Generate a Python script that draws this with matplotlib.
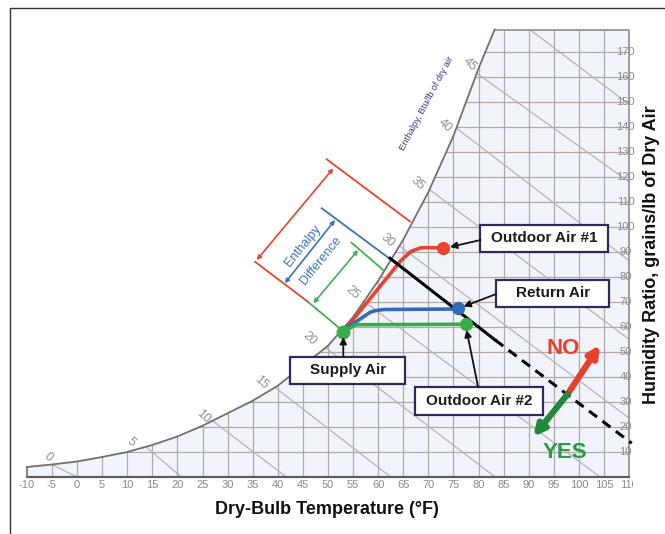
import matplotlib
matplotlib.use("Agg")
import matplotlib.pyplot as plt
from matplotlib.patches import Polygon, Rectangle

plt.rcParams['font.family'] = ['Liberation Sans', 'DejaVu Sans']

# ---------------------------------------------------------------
# data (deg F, grains/lb)
# ---------------------------------------------------------------
sat_temp = [-10, -5, 0, 5, 10, 15, 20, 25, 30, 35, 40, 45, 50, 55, 60, 65, 70, 75, 80, 83.2]
sat_grains = [4, 5, 6.2, 8, 10, 12.8, 16.2, 20.5, 25.5, 30.5, 36.5, 44.5, 52.5, 64, 78.5, 95, 114, 136.5, 163.5, 179]

db_ticks = list(range(-10, 115, 5))
w_ticks = list(range(10, 180, 10))
top_grains = 179

# constant enthalpy lines: start near saturation, end on edge
enth_t0 = [-5.5, 13.5, 27.0, 39.0, 49.0, 57.0, 64.2, 70.2, 75.6, 79.6, 90.2]
enth_w0 = [5.5, 12.5, 22.5, 36.5, 52.5, 70.5, 92.5, 115, 139.5, 161.5, 179]
enth_t1 = [0, 20.8, 41.7, 62.5, 83.3, 104.2, 110, 110, 110, 110, 110]
enth_w1 = [0, 0, 0, 0, 0, 0, 23.5, 55, 86.5, 118, 149]

enth_labels = ['0', '5', '10', '15', '20', '25', '30', '35', '40', '45']
enth_lab_t = [-5.8, 10.8, 25.2, 36.6, 46.4, 54.8, 61.8, 67.8, 73.2, 78.2]
enth_lab_w = [8.1, 14.1, 24.2, 37.9, 55.2, 73.8, 94.4, 117.3, 140.7, 164.9]

# states
supply = (53.05, 58.1)
oa1 = (73.0, 91.7)
ret = (75.8, 67.5)
oa2 = (77.5, 61.1)

red_t = [53.05, 64.5, 66.5, 68.5, 73.0]
red_w = [58.1, 86.5, 90.2, 91.7, 91.7]
blue_t = [53.7, 58.4, 59.4, 61.0, 75.8]
blue_w = [59.5, 65.9, 66.5, 67.0, 67.2]
green_t = [53.05, 55.5, 77.5]
green_w = [58.1, 60.9, 61.1]

# return air enthalpy line (solid part, dashed part)
black_t = [62.35, 83.3]
black_w = [87.5, 54.8]
dash_t = [83.3, 110.5]
dash_w = [54.8, 13.5]

# enthalpy difference dimensions
red_top = ([49.74, 66.33], [127.1, 102.2])
red_bot = ([35.46, 46.0], [86.1, 70.1])
green_bot = ([46.0, 52.7], [70.1, 58.8])
blue_top = ([48.75, 63.5], [107.5, 85.5])
green_top = ([54.7, 61.0], [93.7, 82.8])
red_dim = ((51.06, 123.5), (35.8, 86.8))
blue_dim = ((51.4, 102.8), (41.4, 77.5))
green_dim = ((56.0, 90.8), (47.1, 69.5))

cross = (97.75, 33.2)
no_tip = (104.2, 52.8)
yes_tip = (90.9, 16.1)

# ---------------------------------------------------------------
W_PX, H_PX = 665, 534
PX_T, PX_W = 5.02, 2.5
fig = plt.figure(figsize=(6.65, 5.34), dpi=100)

bg = fig.add_axes([0, 0, 1, 1])
bg.set_xlim(0, W_PX)
bg.set_ylim(H_PX, 0)
bg.axis('off')
bg.plot([10, 10, 670], [545, 8, 8], color='#333333', lw=1.0)

x_left = 77 - 10 * PX_T
ax = fig.add_axes([x_left / W_PX, (H_PX - 477) / H_PX,
                   120 * PX_T / W_PX, top_grains * PX_W / H_PX])
ax.set_xlim(-10, 110)
ax.set_ylim(0, top_grains)
ax.axis('off')

outline = list(zip(sat_temp, sat_grains)) + [(110, top_grains), (110, 0), (-10, 0)]
chart = Polygon(outline, closed=True, facecolor='#f1f5fb', edgecolor='none', zorder=0)
ax.add_patch(chart)

grid_c = '#b2aaaa'
for t in db_ticks[1:-1]:
    ln, = ax.plot([t, t], [0, top_grains], color=grid_c, lw=0.9, zorder=1)
    ln.set_clip_path(chart)
for w in w_ticks:
    ln, = ax.plot([-10, 110], [w, w], color=grid_c, lw=0.9, zorder=1)
    ln.set_clip_path(chart)
for i in range(len(enth_t0)):
    ta, wa, tb, wb = enth_t0[i], enth_w0[i], enth_t1[i], enth_w1[i]
    ta2 = ta + (ta - tb) * 0.06
    wa2 = wa + (wa - wb) * 0.06
    ln, = ax.plot([ta2, tb], [wa2, wb], color='#b8b1b1', lw=0.9, zorder=1)
    ln.set_clip_path(chart)

# chart outline
ax.plot(sat_temp, sat_grains, color='#707070', lw=1.3, zorder=2, clip_on=False)
ax.plot([sat_temp[-1], 110, 110], [top_grains, top_grains, 0], color='#8a8484', lw=1.1,
        zorder=2, clip_on=False)
ax.plot([-10, 110], [0, 0], color='#5e5e5e', lw=1.6, zorder=2, clip_on=False)
ax.plot([-10, -10], [0, sat_grains[0]], color='#707070', lw=1.2, zorder=2, clip_on=False)

# bottom labels; the last one is cut by the picture edge in the original
edge_clip = Rectangle((0, 0), 633, H_PX, transform=bg.transData)
for t in db_ticks:
    lab = ax.text(t, -3.2, str(t), ha='center', va='center', fontsize=8, color='#8a8a8a',
                  clip_on=True)
    lab.set_clip_box(None)
    lab.set_clip_path(edge_clip)
for w in w_ticks:
    ax.text(109.3, w, str(w), ha='center', va='center', fontsize=8, color='#8a8a8a',
            clip_on=False, zorder=3)

for lab, t, w in zip(enth_labels, enth_lab_t, enth_lab_w):
    ax.text(t, w, lab, ha='center', va='center', fontsize=9, color='#8f8f8f',
            rotation=-43, clip_on=False)
ax.text(69.7, 149.6, 'Enthalpy, Btu/lb of dry air', ha='center', va='center',
        fontsize=6.8, color='#3b3a8a', rotation=62, rotation_mode='anchor', clip_on=False)

# dimension lines
red_c, blue_c, green_c = '#e8432d', '#3a72bd', '#45ad52'
ax.plot(*red_top, color=red_c, lw=1.3, zorder=4, clip_on=False)
ax.plot(*red_bot, color=red_c, lw=1.3, zorder=4, clip_on=False)
ax.plot(*green_bot, color=green_c, lw=1.3, zorder=4, clip_on=False)
ax.plot(*blue_top, color=blue_c, lw=1.3, zorder=4, clip_on=False)
ax.plot(*green_top, color=green_c, lw=1.3, zorder=4, clip_on=False)
for (p, q), c in [(red_dim, red_c), (blue_dim, blue_c), (green_dim, green_c)]:
    ax.annotate('', xy=q, xytext=p, annotation_clip=False, zorder=4,
                arrowprops=dict(arrowstyle='<|-|>', color=c, lw=1.2, mutation_scale=6,
                                shrinkA=0, shrinkB=0))
ax.text(45.1, 92.4, 'Enthalpy', ha='center', va='center', fontsize=9.2, color=blue_c,
        rotation=51, rotation_mode='anchor', clip_on=False)
ax.text(48.5, 86.6, 'Difference', ha='center', va='center', fontsize=9.2, color=blue_c,
        rotation=51, rotation_mode='anchor', clip_on=False)

# process lines
ax.plot(red_t, red_w, color=red_c, lw=2.6, zorder=5, solid_capstyle='round')
ax.plot(blue_t, blue_w, color='#2f6db5', lw=2.6, zorder=5, solid_capstyle='round')
ax.plot(green_t, green_w, color='#3aab4a', lw=2.6, zorder=5, solid_capstyle='round')
ax.plot(black_t, black_w, color='black', lw=2.2, zorder=5)
ax.plot(dash_t, dash_w, color='black', lw=2.2, zorder=5, dashes=(3.3, 2.2), clip_on=False)

ax.plot(*oa1, 'o', color=red_c, ms=8.5, zorder=6)
ax.plot(*ret, 'o', color='#2f6db5', ms=8.5, zorder=6)
ax.plot(*oa2, 'o', color='#3aab4a', ms=8.5, zorder=6)
ax.plot(*supply, 'o', color='#3aab4a', ms=9, zorder=6)

# boxed labels: text, centre (T, W), box size in px, arrow tail, arrow head
boxes = [('Outdoor Air #1', (93.0, 95.4), 128, 27, (80.4, 94.8), (74.3, 92.0)),
         ('Return Air', (94.8, 73.6), 113, 27, (83.5, 73.2), (77.0, 68.2)),
         ('Supply Air', (53.9, 42.8), 115, 27, (53.05, 48.0), (53.05, 56.0)),
         ('Outdoor Air #2', (80.1, 30.4), 128, 28, (79.9, 36.0), (77.6, 58.8))]
for txt, (tc, wc), bw, bh, tail, head in boxes:
    dw, dh = bw / PX_T, bh / PX_W
    ax.add_patch(Rectangle((tc - dw / 2, wc - dh / 2), dw, dh, facecolor='white',
                           edgecolor='#2d2a5c', lw=1.6, zorder=7, clip_on=False))
    ax.text(tc, wc, txt, ha='center', va='center', fontsize=11, fontweight='bold',
            color='#1c1c1c', zorder=8, clip_on=False)
    ax.annotate('', xy=head, xytext=tail, annotation_clip=False, zorder=7,
                arrowprops=dict(arrowstyle='-|>', color='#111111', lw=1.3, mutation_scale=10,
                                shrinkA=0, shrinkB=0))

# NO / YES arrows
ax.annotate('', xy=no_tip, xytext=cross, annotation_clip=False, zorder=6,
            arrowprops=dict(arrowstyle='-|>', color='#e8402a', lw=4.5, mutation_scale=16,
                            shrinkA=0, shrinkB=0))
ax.annotate('', xy=yes_tip, xytext=cross, annotation_clip=False, zorder=6,
            arrowprops=dict(arrowstyle='-|>', color='#1e8a3a', lw=4.5, mutation_scale=16,
                            shrinkA=0, shrinkB=0))
ax.text(96.8, 51.6, 'NO', ha='center', va='center', fontsize=16, fontweight='bold',
        color='#e8402a', zorder=6)
ax.text(97.2, 9.6, 'YES', ha='center', va='center', fontsize=16, fontweight='bold',
        color='#2a9a45', zorder=6)

# axis titles
bg.text(327, 509, 'Dry-Bulb Temperature (\u00b0F)', ha='center', va='center',
        fontsize=13, fontweight='bold', color='#111111')
bg.text(651, 255, 'Humidity Ratio, grains/lb of Dry Air', ha='center', va='center',
        fontsize=13, fontweight='bold', color='#111111', rotation=90)

fig.savefig('out.png', dpi=100)
